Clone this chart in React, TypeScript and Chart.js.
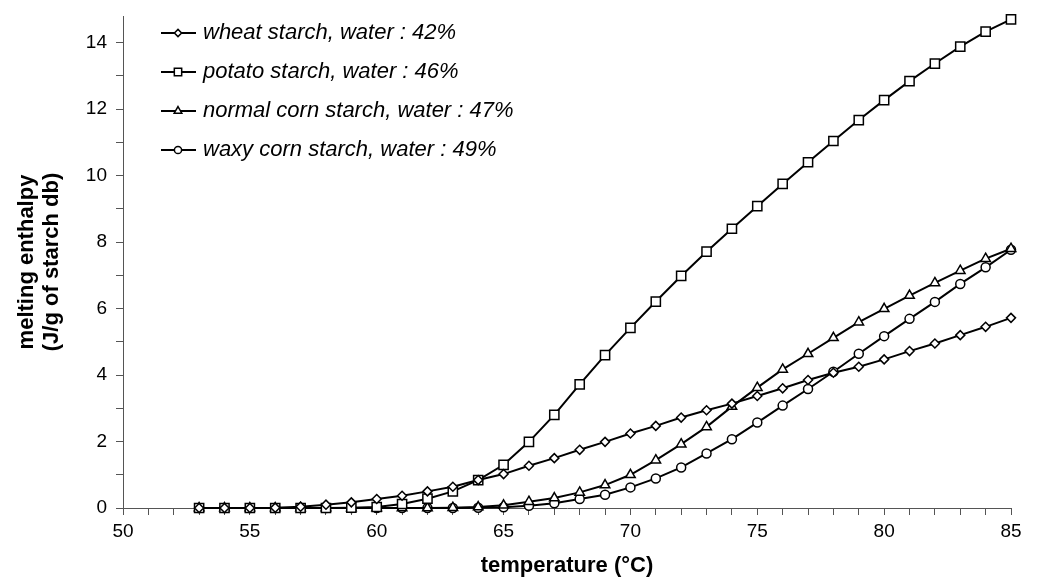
import React, { useEffect, useRef } from 'react';
import { Chart, registerables } from 'chart.js';
import { drawPoint } from 'chart.js/helpers';

Chart.register(...registerables);

const temperatures = [53, 54, 55, 56, 57, 58, 59, 60, 61, 62, 63, 64, 65, 66, 67, 68, 69, 70, 71, 72, 73, 74, 75, 76, 77, 78, 79, 80, 81, 82, 83, 84, 85];

const wheat = [0, 0, 0, 0.01, 0.04, 0.1, 0.17, 0.27, 0.37, 0.5, 0.64, 0.84, 1.02, 1.27, 1.5, 1.75, 1.99, 2.24, 2.47, 2.72, 2.94, 3.14, 3.37, 3.6, 3.85, 4.07, 4.25, 4.47, 4.72, 4.95, 5.2, 5.45, 5.72];
const potato = [0, 0, 0, 0, 0, 0, 0.01, 0.03, 0.12, 0.28, 0.5, 0.84, 1.3, 1.99, 2.8, 3.72, 4.6, 5.42, 6.21, 6.98, 7.71, 8.4, 9.08, 9.75, 10.4, 11.04, 11.67, 12.27, 12.84, 13.37, 13.88, 14.33, 14.7];
const normalCorn = [0, 0, 0, 0, 0, 0, 0, 0, 0, 0, 0.01, 0.03, 0.08, 0.19, 0.3, 0.47, 0.69, 1.0, 1.44, 1.92, 2.44, 3.05, 3.62, 4.17, 4.64, 5.12, 5.59, 5.99, 6.39, 6.77, 7.14, 7.5, 7.8];
const waxyCorn = [0, 0, 0, 0, 0, 0, 0, 0, 0, 0, 0, 0.01, 0.02, 0.07, 0.14, 0.27, 0.4, 0.62, 0.89, 1.22, 1.64, 2.07, 2.57, 3.08, 3.58, 4.1, 4.64, 5.17, 5.69, 6.2, 6.74, 7.24, 7.77];

const seriesLabels = [
  'wheat starch, water : 42%',
  'potato starch, water : 46%',
  'normal corn starch, water : 47%',
  'waxy corn starch, water : 49%',
];

const xLabelTicks = [50, 55, 60, 65, 70, 75, 80, 85];
const yLabelTicks = [0, 2, 4, 6, 8, 10, 12, 14];

const xTitle = 'temperature (°C)';
const yTitle = ['melting enthalpy', '(J/g of starch db)'];

const FONT = "'Liberation Sans', Arial, sans-serif";

const insideLegend = {
  id: 'insideLegend',
  afterDraw(chart: any) {
    const ctx = chart.ctx;
    ctx.save();
    chart.data.datasets.forEach((ds: any, i: number) => {
      const y = 25 + i * 39;
      ctx.strokeStyle = '#000';
      ctx.lineWidth = 2;
      ctx.beginPath();
      ctx.moveTo(153, y);
      ctx.lineTo(188, y);
      ctx.stroke();
      ctx.fillStyle = '#fff';
      ctx.strokeStyle = '#000';
      ctx.lineWidth = 1.5;
      drawPoint(ctx, { pointStyle: ds.pointStyle, radius: ds.pointRadius * 0.8, borderWidth: 1.5, rotation: 0 }, 170, y);
      ctx.fillStyle = '#000';
      ctx.font = `italic 22px ${FONT}`;
      ctx.textBaseline = 'middle';
      ctx.textAlign = 'left';
      ctx.fillText(ds.label, 195, y);
    });
    ctx.restore();
  },
};

function makeDataset(label: string, values: number[], pointStyle: string, radius: number) {
  return {
    label,
    data: temperatures.map((t, i) => ({ x: t, y: values[i] })),
    borderColor: '#000',
    borderWidth: 2,
    pointStyle,
    pointRadius: radius,
    pointBackgroundColor: '#fff',
    pointBorderColor: '#000',
    pointBorderWidth: 1.5,
    fill: false,
    tension: 0,
    clip: false,
  };
}

export default function App() {
  const canvasRef = useRef<HTMLCanvasElement>(null);

  useEffect(() => {
    if (!canvasRef.current) return;
    const chart = new Chart(canvasRef.current, {
      type: 'line',
      data: {
        datasets: [
          makeDataset(seriesLabels[0], wheat, 'rectRot', 4.5),
          makeDataset(seriesLabels[1], potato, 'rect', 6.5),
          makeDataset(seriesLabels[2], normalCorn, 'triangle', 5.5),
          makeDataset(seriesLabels[3], waxyCorn, 'circle', 4.5),
        ] as any,
      },
      options: {
        animation: false,
        responsive: true,
        maintainAspectRatio: false,
        layout: { padding: { left: 0, right: 25, top: 6, bottom: 0 } },
        plugins: {
          legend: { display: false },
          tooltip: { enabled: false },
        },
        scales: {
          x: {
            type: 'linear',
            min: 50,
            max: 85,
            afterFit: (scale: any) => { scale.height = 70; scale.paddingLeft = 0; scale.paddingRight = 0; },
            ticks: {
              stepSize: 1,
              autoSkip: false,
              maxRotation: 0,
              padding: 5,
              color: '#000',
              font: { family: FONT, size: 19 },
              callback: (v: any) => (xLabelTicks.includes(Number(v)) ? String(v) : ''),
            },
            grid: { drawOnChartArea: false, drawTicks: true, tickLength: 7, color: '#555' },
            border: { display: true, color: '#555', width: 1 },
            title: {
              display: true,
              text: xTitle,
              color: '#000',
              font: { family: FONT, size: 22, weight: 'bold', lineHeight: 1.1 },
              padding: { top: 0, bottom: 0 },
            },
          },
          y: {
            type: 'linear',
            min: 0,
            max: 14.8,
            afterFit: (scale: any) => { scale.width = 115; scale.paddingTop = 0; scale.paddingBottom = 0; },
            ticks: {
              stepSize: 1,
              includeBounds: false,
              autoSkip: false,
              padding: 9,
              color: '#000',
              font: { family: FONT, size: 19 },
              callback: (v: any) => (yLabelTicks.includes(Number(v)) ? String(v) : ''),
            },
            grid: { drawOnChartArea: false, drawTicks: true, tickLength: 7, color: '#555' },
            border: { display: true, color: '#555', width: 1 },
            title: {
              display: true,
              text: yTitle,
              color: '#000',
              font: { family: FONT, size: 22, weight: 'bold', lineHeight: 1.15 },
              padding: { top: 6, bottom: 0 },
            },
          },
        },
      } as any,
      plugins: [insideLegend],
    });
    return () => chart.destroy();
  }, []);

  return (
    <div style={{ width: 1028, height: 570, position: 'relative' }}>
      <canvas ref={canvasRef} />
    </div>
  );
}
